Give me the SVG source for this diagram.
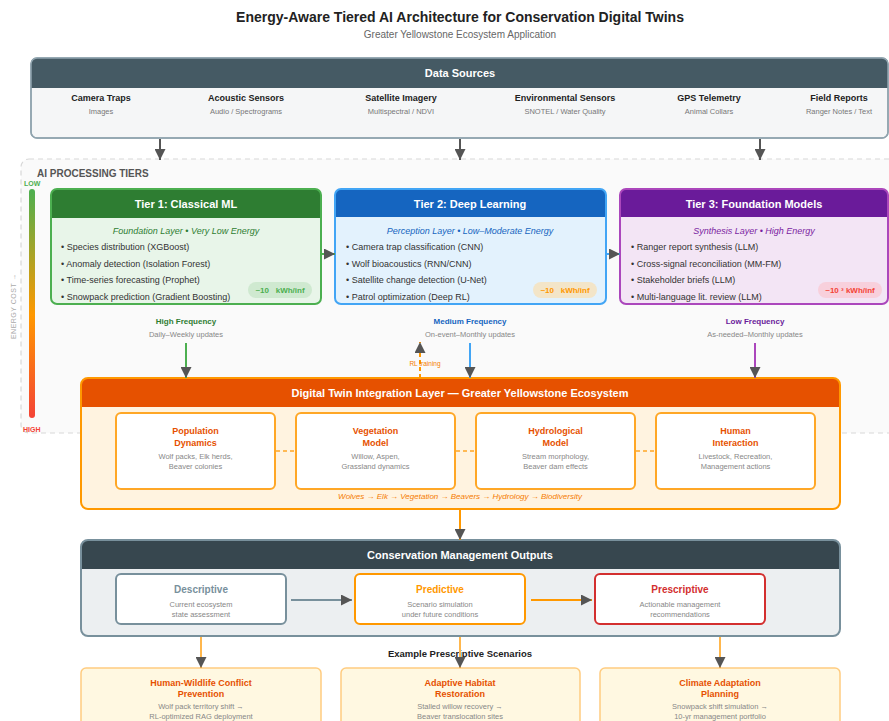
<svg xmlns="http://www.w3.org/2000/svg" width="889" height="721" viewBox="0 0 889 721">
<defs>
<marker id="ah" viewBox="0 0 10 10" refX="10" refY="5" markerWidth="11" markerHeight="11" markerUnits="userSpaceOnUse" orient="auto"><path d="M0,0 L10,5 L0,10 z" fill="#555"/></marker>
<linearGradient id="eg" x1="0" y1="0" x2="0" y2="1"><stop offset="0" stop-color="#4caf50"/><stop offset="0.55" stop-color="#ff9800"/><stop offset="1" stop-color="#f44336"/></linearGradient>
<style>
text{font-family:"Liberation Sans",Arial,Helvetica,sans-serif}
.c{text-anchor:middle}
.ttl{font-size:14px;font-weight:bold;fill:#222}
.sub{font-size:10px;fill:#666}
.hd{font-size:11px;font-weight:bold;fill:#fff}
.src{font-size:9px;font-weight:bold;fill:#222}
.srcs{font-size:7.5px;fill:#777}
.bul{font-size:9px;fill:#333}
.it{font-size:9px;font-style:italic}
.badge{font-size:8px;font-weight:bold}
.fq{font-size:8px;font-weight:bold}
.fqs{font-size:7.5px;fill:#888}
.mt{font-size:9px;font-weight:bold;fill:#e65100}
.md{font-size:7.5px;fill:#888}
.ot{font-size:10px;font-weight:bold}
.sc{font-size:9px;font-weight:bold;fill:#e65100}
.ln{fill:none;stroke-width:2}
</style>
</defs>
<rect width="889" height="721" fill="#fff"/>
<g id="title">
<text class="ttl c" x="460" y="22">Energy-Aware Tiered AI Architecture for Conservation Digital Twins</text>
<text class="sub c" x="460" y="38">Greater Yellowstone Ecosystem Application</text>
</g>
<g id="data-sources">
<rect x="31" y="58" width="857" height="80" rx="6" fill="#f5f6f7" stroke="#90a4ae" stroke-width="1.5"/>
<path d="M31,88 L31,64 Q31,58 37,58 L882,58 Q888,58 888,64 L888,88 Z" fill="#455a64"/>
<rect x="31" y="58" width="857" height="80" rx="6" fill="none" stroke="#90a4ae" stroke-width="1.5"/>
<text class="hd c" x="460" y="77">Data Sources</text>
<text class="src c" x="101" y="101">Camera Traps</text><text class="srcs c" x="101" y="114">Images</text>
<text class="src c" x="246" y="101">Acoustic Sensors</text><text class="srcs c" x="246" y="114">Audio / Spectrograms</text>
<text class="src c" x="401" y="101">Satellite Imagery</text><text class="srcs c" x="401" y="114">Multispectral / NDVI</text>
<text class="src c" x="565" y="101">Environmental Sensors</text><text class="srcs c" x="565" y="114">SNOTEL / Water Quality</text>
<text class="src c" x="709" y="101">GPS Telemetry</text><text class="srcs c" x="709" y="114">Animal Collars</text>
<text class="src c" x="839" y="101">Field Reports</text><text class="srcs c" x="839" y="114">Ranger Notes / Text</text>
</g>
<g id="ai-tiers-container">
<rect x="21" y="159" width="900" height="274" rx="8" fill="#fafafa" stroke="#d8d8d8" stroke-width="1.2" stroke-dasharray="5,4"/>
<text x="37" y="177" style="font-size:10px;font-weight:bold;fill:#555">AI PROCESSING TIERS</text>
<rect x="29" y="189" width="6" height="229" rx="3" fill="url(#eg)"/>
<text x="24" y="186" style="font-size:7px;font-weight:bold;fill:#4caf50">LOW</text>
<text x="23" y="432" style="font-size:7px;font-weight:bold;fill:#f44336">HIGH</text>
<text class="c" transform="translate(16,306) rotate(-90)" style="font-size:7px;fill:#aaa;letter-spacing:0.5px">ENERGY COST →</text>
</g>
<g id="tier1">
<rect x="51" y="189" width="270" height="115" rx="6" fill="#e8f5e9"/>
<path d="M51,218 L51,195 Q51,189 57,189 L315,189 Q321,189 321,195 L321,218 Z" fill="#2e7d32"/>
<rect x="51" y="189" width="270" height="115" rx="6" fill="none" stroke="#4caf50" stroke-width="2"/>
<text class="hd c" x="186" y="208">Tier 1: Classical ML</text>
<text class="it c" x="186" y="234" fill="#2e7d32">Foundation Layer • Very Low Energy</text>
<text class="bul" x="61" y="250">• Species distribution (XGBoost)</text>
<text class="bul" x="61" y="267">• Anomaly detection (Isolation Forest)</text>
<text class="bul" x="61" y="283">• Time-series forecasting (Prophet)</text>
<text class="bul" x="61" y="300">• Snowpack prediction (Gradient Boosting)</text>
<rect x="248" y="282" width="64" height="16" rx="8" fill="#c8e6c9" opacity="0.8"/>
<text class="badge c" x="280" y="293" fill="#4caf50">~10&#160;&#160; kWh/inf</text>
</g>
<g id="tier2">
<rect x="335" y="189" width="271" height="115" rx="6" fill="#e3f2fd"/>
<path d="M335,217 L335,195 Q335,189 341,189 L600,189 Q606,189 606,195 L606,217 Z" fill="#1565c0"/>
<rect x="335" y="189" width="271" height="115" rx="6" fill="none" stroke="#42a5f5" stroke-width="2"/>
<text class="hd c" x="470" y="208">Tier 2: Deep Learning</text>
<text class="it c" x="470" y="234" fill="#1565c0">Perception Layer • Low–Moderate Energy</text>
<text class="bul" x="346" y="250">• Camera trap classification (CNN)</text>
<text class="bul" x="346" y="267">• Wolf bioacoustics (RNN/CNN)</text>
<text class="bul" x="346" y="283">• Satellite change detection (U-Net)</text>
<text class="bul" x="346" y="300">• Patrol optimization (Deep RL)</text>
<rect x="533" y="282" width="64" height="16" rx="8" fill="#f3e5c8"/>
<text class="badge c" x="565" y="293" fill="#ff9800">~10&#160;&#160; kWh/inf</text>
</g>
<g id="tier3">
<rect x="620" y="189" width="268" height="115" rx="6" fill="#f3e5f5"/>
<path d="M620,217 L620,195 Q620,189 626,189 L882,189 Q888,189 888,195 L888,217 Z" fill="#6a1b9a"/>
<rect x="620" y="189" width="268" height="115" rx="6" fill="none" stroke="#ab47bc" stroke-width="2"/>
<text class="hd c" x="754" y="208">Tier 3: Foundation Models</text>
<text class="it c" x="754" y="234" fill="#7b1fa2">Synthesis Layer • High Energy</text>
<text class="bul" x="631" y="250">• Ranger report synthesis (LLM)</text>
<text class="bul" x="631" y="267">• Cross-signal reconciliation (MM-FM)</text>
<text class="bul" x="631" y="283">• Stakeholder briefs (LLM)</text>
<text class="bul" x="631" y="300">• Multi-language lit. review (LLM)</text>
<rect x="818" y="282" width="64" height="16" rx="8" fill="#f8d0dc"/>
<text class="badge c" x="850" y="293" fill="#f44336">~10 ³ kWh/inf</text>
</g>
<g id="frequency-labels">
<text class="fq c" x="186" y="324" fill="#2e7d32">High Frequency</text>
<text class="fqs c" x="186" y="337">Daily–Weekly updates</text>
<text class="fq c" x="470" y="324" fill="#1565c0">Medium Frequency</text>
<text class="fqs c" x="470" y="337">On-event–Monthly updates</text>
<text class="fq c" x="755" y="324" fill="#6a1b9a">Low Frequency</text>
<text class="fqs c" x="755" y="337">As-needed–Monthly updates</text>
</g>
<g id="digital-twin">
<rect x="81" y="378" width="759" height="131" rx="7" fill="#fff3e0"/>
<path d="M81,407 L81,385 Q81,378 88,378 L833,378 Q840,378 840,385 L840,407 Z" fill="#e65100"/>
<rect x="81" y="378" width="759" height="131" rx="7" fill="none" stroke="#ff9800" stroke-width="2"/>
<text class="hd c" x="460" y="397">Digital Twin Integration Layer — Greater Yellowstone Ecosystem</text>
<text class="c" x="460" y="499" style="font-size:8px;font-style:italic;fill:#f57c00">Wolves → Elk → Vegetation → Beavers → Hydrology → Biodiversity</text>
</g>
<g id="population-dynamics">
<rect x="116" y="413" width="159" height="76" rx="5" fill="#fff" stroke="#ffa726" stroke-width="2"/>
<text class="mt c" x="195.5" y="434">Population</text><text class="mt c" x="195.5" y="446">Dynamics</text>
<text class="md c" x="195.5" y="459">Wolf packs, Elk herds,</text><text class="md c" x="195.5" y="469">Beaver colonies</text>
</g>
<g id="vegetation-model">
<rect x="296" y="413" width="159" height="76" rx="5" fill="#fff" stroke="#ffa726" stroke-width="2"/>
<text class="mt c" x="375.5" y="434">Vegetation</text><text class="mt c" x="375.5" y="446">Model</text>
<text class="md c" x="375.5" y="459">Willow, Aspen,</text><text class="md c" x="375.5" y="469">Grassland dynamics</text>
</g>
<g id="hydrological-model">
<rect x="476" y="413" width="159" height="76" rx="5" fill="#fff" stroke="#ffa726" stroke-width="2"/>
<text class="mt c" x="555.5" y="434">Hydrological</text><text class="mt c" x="555.5" y="446">Model</text>
<text class="md c" x="555.5" y="459">Stream morphology,</text><text class="md c" x="555.5" y="469">Beaver dam effects</text>
</g>
<g id="human-interaction">
<rect x="656" y="413" width="159" height="76" rx="5" fill="#fff" stroke="#ffa726" stroke-width="2"/>
<text class="mt c" x="735.5" y="434">Human</text><text class="mt c" x="735.5" y="446">Interaction</text>
<text class="md c" x="735.5" y="459">Livestock, Recreation,</text><text class="md c" x="735.5" y="469">Management actions</text>
</g>
<g id="outputs">
<rect x="81" y="540" width="759" height="96" rx="7" fill="#eceff1"/>
<path d="M81,569 L81,547 Q81,540 88,540 L833,540 Q840,540 840,547 L840,569 Z" fill="#37474f"/>
<rect x="81" y="540" width="759" height="96" rx="7" fill="none" stroke="#78909c" stroke-width="2"/>
<text class="hd c" x="460" y="559">Conservation Management Outputs</text>
</g>
<g id="descriptive">
<rect x="116" y="574" width="170" height="50" rx="5" fill="#fff" stroke="#78909c" stroke-width="2"/>
<text class="ot c" x="201" y="593" fill="#78909c">Descriptive</text>
<text class="md c" x="201" y="607">Current ecosystem</text><text class="md c" x="201" y="617">state assessment</text>
</g>
<g id="predictive">
<rect x="355" y="574" width="170" height="50" rx="5" fill="#fff" stroke="#ff9800" stroke-width="2"/>
<text class="ot c" x="440" y="593" fill="#ff9800">Predictive</text>
<text class="md c" x="440" y="607">Scenario simulation</text><text class="md c" x="440" y="617">under future conditions</text>
</g>
<g id="prescriptive">
<rect x="595" y="574" width="170" height="50" rx="5" fill="#fff" stroke="#d32f2f" stroke-width="2"/>
<text class="ot c" x="680" y="593" fill="#d32f2f">Prescriptive</text>
<text class="md c" x="680" y="607">Actionable management</text><text class="md c" x="680" y="617">recommendations</text>
</g>
<g id="scenarios-label">
<text class="c" x="460" y="657" style="font-size:9.5px;font-weight:bold;fill:#222">Example Prescriptive Scenarios</text>
</g>
<g id="scenario-conflict">
<rect x="81" y="668" width="240" height="70" rx="5" fill="#fff8e1" stroke="#ffcc80" stroke-width="1.5"/>
<text class="sc c" x="201" y="686">Human-Wildlife Conflict</text><text class="sc c" x="201" y="697">Prevention</text>
<text class="md c" x="201" y="709">Wolf pack territory shift →</text><text class="md c" x="201" y="719">RL-optimized RAG deployment</text>
</g>
<g id="scenario-habitat">
<rect x="341" y="668" width="239" height="70" rx="5" fill="#fff8e1" stroke="#ffcc80" stroke-width="1.5"/>
<text class="sc c" x="460" y="686">Adaptive Habitat</text><text class="sc c" x="460" y="697">Restoration</text>
<text class="md c" x="460" y="709">Stalled willow recovery →</text><text class="md c" x="460" y="719">Beaver translocation sites</text>
</g>
<g id="scenario-climate">
<rect x="600" y="668" width="240" height="70" rx="5" fill="#fff8e1" stroke="#ffcc80" stroke-width="1.5"/>
<text class="sc c" x="720" y="686">Climate Adaptation</text><text class="sc c" x="720" y="697">Planning</text>
<text class="md c" x="720" y="709">Snowpack shift simulation →</text><text class="md c" x="720" y="719">10-yr management portfolio</text>
</g>
<g id="connectors">
<line class="ln" x1="160" y1="139" x2="160" y2="160" stroke="#555" marker-end="url(#ah)"/>
<line class="ln" x1="460" y1="139" x2="460" y2="160" stroke="#555" marker-end="url(#ah)"/>
<line class="ln" x1="760" y1="139" x2="760" y2="160" stroke="#555" marker-end="url(#ah)"/>
<line class="ln" x1="321" y1="254" x2="335" y2="254" stroke="#4caf50" marker-end="url(#ah)"/>
<line class="ln" x1="606" y1="254" x2="620" y2="254" stroke="#42a5f5" marker-end="url(#ah)"/>
<line class="ln" x1="186" y1="343" x2="186" y2="378" stroke="#4caf50" marker-end="url(#ah)"/>
<line class="ln" x1="470" y1="343" x2="470" y2="378" stroke="#42a5f5" marker-end="url(#ah)"/>
<line class="ln" x1="755" y1="343" x2="755" y2="378" stroke="#ab47bc" marker-end="url(#ah)"/>
<line class="ln" x1="420" y1="378" x2="420" y2="342" stroke="#ff9800" stroke-dasharray="4,3" marker-end="url(#ah)"/>
<text class="c" x="425" y="366" style="font-size:6.5px;fill:#f57c00">RL training</text>
<line x1="276" y1="451" x2="296" y2="451" stroke="#ffa726" stroke-width="1.5" stroke-dasharray="4,3"/>
<line x1="456" y1="451" x2="476" y2="451" stroke="#ffa726" stroke-width="1.5" stroke-dasharray="4,3"/>
<line x1="636" y1="451" x2="656" y2="451" stroke="#ffa726" stroke-width="1.5" stroke-dasharray="4,3"/>
<line class="ln" x1="460" y1="510" x2="460" y2="540" stroke="#ff9800" marker-end="url(#ah)"/>
<line class="ln" x1="291" y1="600" x2="352" y2="600" stroke="#78909c" marker-end="url(#ah)"/>
<line class="ln" x1="531" y1="600" x2="592" y2="600" stroke="#ff9800" marker-end="url(#ah)"/>
<line class="ln" x1="201" y1="637" x2="201" y2="668" stroke="#ffb74d" marker-end="url(#ah)"/>
<line class="ln" x1="460" y1="637" x2="460" y2="668" stroke="#ffb74d" marker-end="url(#ah)"/>
<line class="ln" x1="720" y1="637" x2="720" y2="668" stroke="#ffb74d" marker-end="url(#ah)"/>
</g>
</svg>
